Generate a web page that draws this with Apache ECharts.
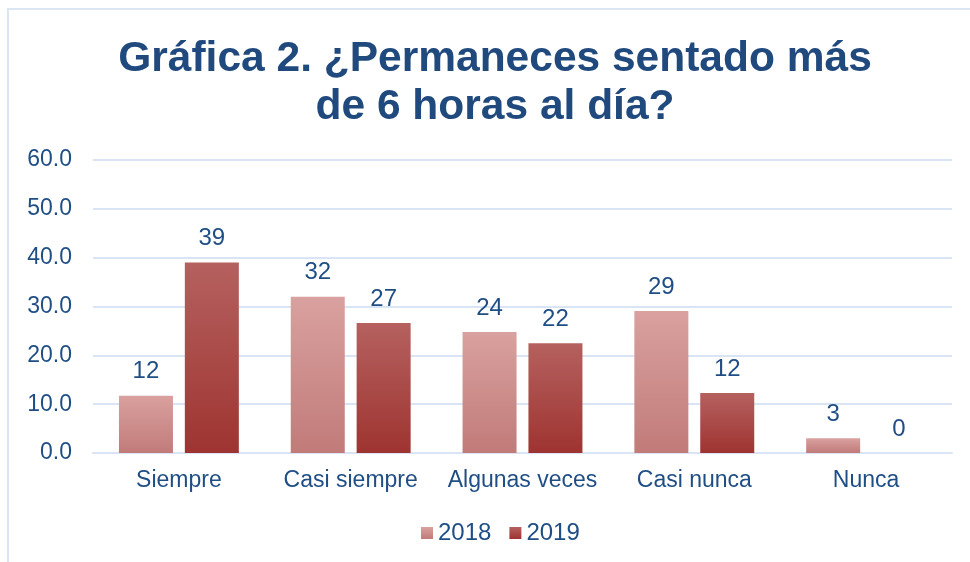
<!DOCTYPE html>
<html>
<head>
<meta charset="utf-8">
<script src="https://cdn.jsdelivr.net/npm/echarts@6/dist/echarts.min.js"></script>
<style>
  html, body { margin: 0; padding: 0; background: #fff; }
  #chart { width: 970px; height: 562px; }
</style>
</head>
<body>
<div id="chart"></div>
<script>
// categories and values
const categories = ['Siempre', 'Casi siempre', 'Algunas veces', 'Casi nunca', 'Nunca'];
const values2018 = [11.7, 32.0, 24.8, 29.1, 3.0];
const values2019 = [39.0, 26.6, 22.5, 12.3, 0];
// the labels printed above the bars
const labels2018 = ['12', '32', '24', '29', '3'];
const labels2019 = ['39', '27', '22', '12', '0'];

const textColor = '#1f4e85';

function grad(top, bottom) {
    return new echarts.graphic.LinearGradient(0, 0, 0, 1, [
        { offset: 0, color: top },
        { offset: 1, color: bottom }
    ]);
}

let myChart = echarts.init(document.getElementById('chart'));

let option = {
    animation: false,
    title: {
        text: 'Gráfica 2. ¿Permaneces sentado más\nde 6 horas al día?',
        left: 490,
        textAlign: 'center',
        top: 30,
        textStyle: {
            fontFamily: 'Liberation Sans',
            fontSize: 42.5,
            fontWeight: 'bold',
            color: '#204a7e',
            lineHeight: 48
        }
    },
    graphic: [{
        type: 'rect',
        shape: { x: 8, y: 9, width: 980, height: 580 },
        style: { fill: 'none', stroke: '#dbe5f4', lineWidth: 2 },
        silent: true
    }],
    legend: {
        bottom: 12,
        left: 416,
        itemWidth: 12,
        itemHeight: 12,
        itemGap: 18,
        icon: 'rect',
        textStyle: { fontFamily: 'Liberation Sans', fontSize: 24, color: textColor }
    },
    grid: { left: 93, right: 18, top: 160, bottom: 109 },
    xAxis: {
        type: 'category',
        data: categories,
        axisLine: { lineStyle: { color: '#d9e5f5', width: 2 } },
        axisTick: { show: false },
        axisLabel: { interval: 0, fontFamily: 'Liberation Sans', fontSize: 23, color: textColor, margin: 16 }
    },
    yAxis: {
        type: 'value',
        min: 0,
        max: 60,
        interval: 10,
        axisLine: { show: false },
        axisTick: { show: false },
        splitLine: { lineStyle: { color: '#d9e5f5', width: 2 } },
        axisLabel: {
            fontFamily: 'Liberation Sans', fontSize: 23, color: textColor, margin: 21,
            formatter: function (v) { return v.toFixed(1); }
        }
    },
    series: [{
        name: '2018',
        type: 'bar',
        data: values2018,
        barWidth: 54,
        barGap: '22%',
        itemStyle: { color: grad('#d9a19f', '#c17b79') },
        label: {
            show: true, position: 'top', distance: 12,
            fontFamily: 'Liberation Sans', fontSize: 24, color: textColor,
            formatter: function (p) { return labels2018[p.dataIndex]; }
        }
    }, {
        name: '2019',
        type: 'bar',
        data: values2019,
        barWidth: 54,
        itemStyle: { color: grad('#b5615f', '#9e3431') },
        label: {
            show: true, position: 'top', distance: 12,
            fontFamily: 'Liberation Sans', fontSize: 24, color: textColor,
            formatter: function (p) { return labels2019[p.dataIndex]; }
        }
    }]
};

myChart.setOption(option);
</script>
</body>
</html>
